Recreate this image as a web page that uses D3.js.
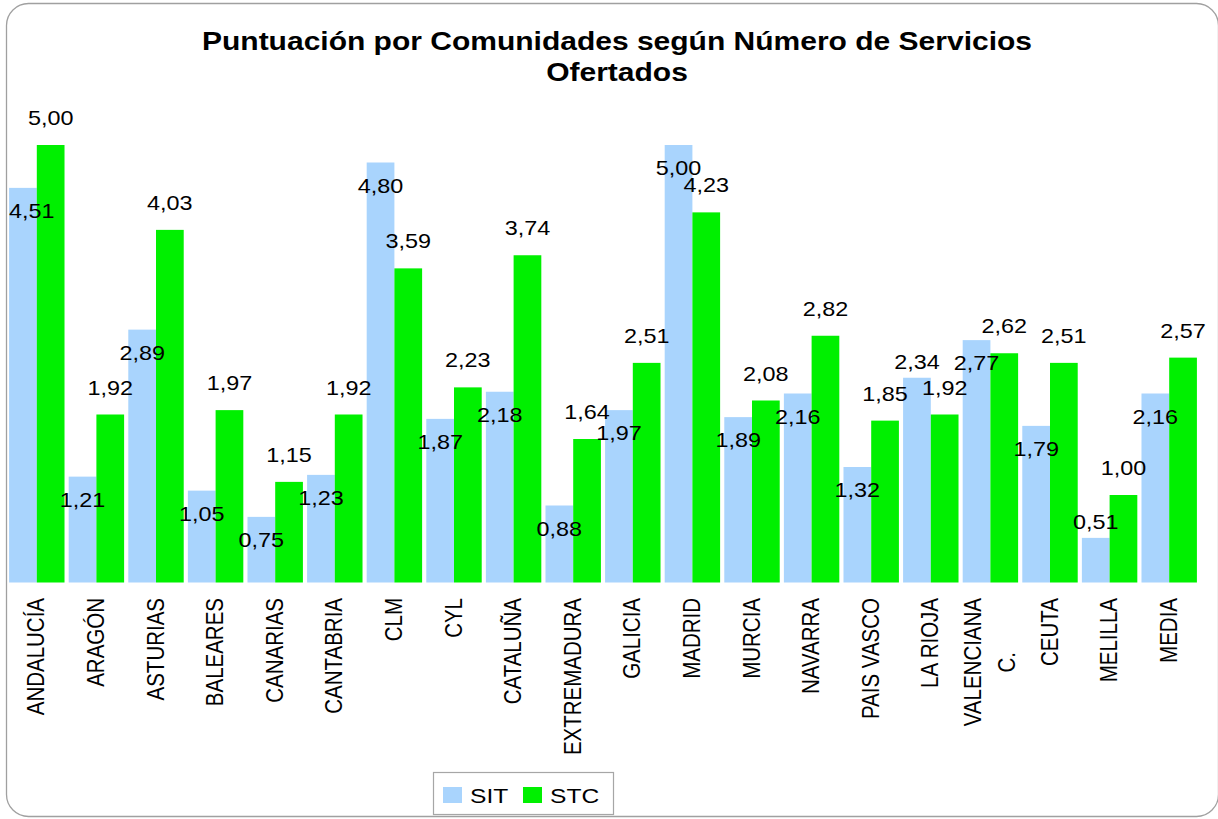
<!DOCTYPE html>
<html>
<head>
<meta charset="utf-8">
<script src="https://cdn.jsdelivr.net/npm/d3@7"></script>
<style>
  html, body { margin: 0; padding: 0; background: #ffffff; }
  svg { display: block; font-family: "Liberation Sans", Arial, sans-serif; }
</style>
</head>
<body>
<svg id="chart" width="1218" height="819"></svg>
<script>
// ---- data ----
const categories = ["ANDALUCÍA","ARAGÓN","ASTURIAS","BALEARES","CANARIAS","CANTABRIA","CLM","CYL","CATALUÑA","EXTREMADURA","GALICIA","MADRID","MURCIA","NAVARRA","PAIS VASCO","LA RIOJA","VALENCIANA\nC.","CEUTA","MELILLA","MEDIA"];
const seriesNames = ["SIT","STC"];
const sitValues = [4.51,1.21,2.89,1.05,0.75,1.23,4.80,1.87,2.18,0.88,1.97,5.00,1.89,2.16,1.32,2.34,2.77,1.79,0.51,2.16];
const stcValues = [5.00,1.92,4.03,1.97,1.15,1.92,3.59,2.23,3.74,1.64,2.51,4.23,2.08,2.82,1.85,1.92,2.62,2.51,1.00,2.57];
// SIT labels drawn above the bar instead of inside it
const sitLabelAbove = ["LA RIOJA","MELILLA"];
const titleLines = ["Puntuación por Comunidades según Número de Servicios","Ofertados"];

const colors = { SIT: "#a9d4fd", STC: "#00f000" };
const SX = 1.17; // horizontal stretch of text seen in the reference

const svg = d3.select("#chart");

// frame
svg.append("rect")
  .attr("x", 6.5).attr("y", 3.5).attr("width", 1212).attr("height", 813)
  .attr("rx", 22).attr("ry", 22)
  .attr("fill", "#ffffff").attr("stroke", "#a0a0a0").attr("stroke-width", 1.3);

// title
svg.append("g").selectAll("text").data(titleLines).join("text")
  .attr("transform", (d, i) => `translate(617,${50 + i * 31}) scale(1.2,1)`)
  .attr("text-anchor", "middle")
  .attr("font-size", 25).attr("font-weight", "bold").attr("fill", "#000")
  .text(d => d);

const data = categories.map((c, i) => ({ cat: c, SIT: sitValues[i], STC: stcValues[i] }));

const x0 = d3.scaleBand().domain(categories).range([7, 1199]).paddingInner(0.07).paddingOuter(0.035);
const x1 = d3.scaleBand().domain(seriesNames).range([0, x0.bandwidth()]).padding(0);
const y = d3.scaleLinear().domain([0, 5]).range([582.5, 145]);

const fmt = v => d3.format(".2f")(v).replace(".", ",");

// bars
const groups = svg.append("g").selectAll("g").data(data).join("g")
  .attr("transform", d => `translate(${x0(d.cat)},0)`);

groups.selectAll("rect").data(d => seriesNames.map(s => ({ s, v: d[s], cat: d.cat }))).join("rect")
  .attr("x", d => x1(d.s))
  .attr("width", x1.bandwidth())
  .attr("y", d => y(d.v))
  .attr("height", d => y(0) - y(d.v))
  .attr("fill", d => colors[d.s]);

// value labels (STC first so SIT labels sit on top)
const labelData = [];
data.forEach(d => {
  labelData.push({ s: "STC", v: d.STC, cat: d.cat });
});
data.forEach(d => {
  labelData.push({ s: "SIT", v: d.SIT, cat: d.cat });
});
const plotLeft = x0.range()[0] + 2;
const labels = svg.append("g").selectAll("text").data(labelData).join("text")
  .attr("text-anchor", "middle")
  .attr("font-size", 20).attr("fill", "#000")
  .text(d => fmt(d.v));
labels.each(function(d) {
  const w = this.getComputedTextLength() * SX;
  let cx = x0(d.cat) + x1(d.s) + x1.bandwidth() / 2;
  if (cx - w / 2 < plotLeft) cx = plotLeft + w / 2;
  let by;
  if (d.s === "STC") by = y(d.v) - 20;
  else if (sitLabelAbove.includes(d.cat)) by = y(d.v) - 9;
  else by = y(d.v) + 30;
  d3.select(this).attr("transform", `translate(${cx},${by}) scale(${SX},1)`);
});

// category labels (rotated)
const catG = svg.append("g").selectAll("g").data(categories).join("g");
catG.each(function(c) {
  const lines = c.split("\n");
  const cx = x0(c) + x0.bandwidth() / 2 - 1;
  const g = d3.select(this);
  const lineGap = 34; // px between line centers in image
  const top = 598;
  let firstLen = null;
  lines.forEach((ln, i) => {
    const off = (i - (lines.length - 1) / 2) * lineGap;
    const t = g.append("text")
      .attr("font-size", 20.5).attr("fill", "#000")
      .attr("dy", "0.36em")
      .text(ln);
    if (i === 0) {
      firstLen = t.node().getComputedTextLength();
      t.attr("text-anchor", "end")
       .attr("transform", `translate(${cx + off},${top}) rotate(-90) scale(1,${SX})`);
    } else {
      t.attr("text-anchor", "middle")
       .attr("transform", `translate(${cx + off},${top + firstLen / 2}) rotate(-90) scale(1,${SX})`);
    }
  });
});

// legend
const leg = svg.append("g");
leg.append("rect").attr("x", 433.5).attr("y", 772.5).attr("width", 180).attr("height", 42)
  .attr("fill", "#fff").attr("stroke", "#a6a6a6").attr("stroke-width", 1.2);
const legItems = leg.selectAll("g").data(seriesNames).join("g")
  .attr("transform", (d, i) => `translate(${443 + i * 80},787)`);
legItems.append("rect").attr("width", 19).attr("height", 16).attr("fill", d => colors[d]);
legItems.append("text")
  .attr("transform", `translate(27,16) scale(${SX},1)`)
  .attr("font-size", 21).attr("fill", "#000")
  .text(d => d);
</script>
</body>
</html>
